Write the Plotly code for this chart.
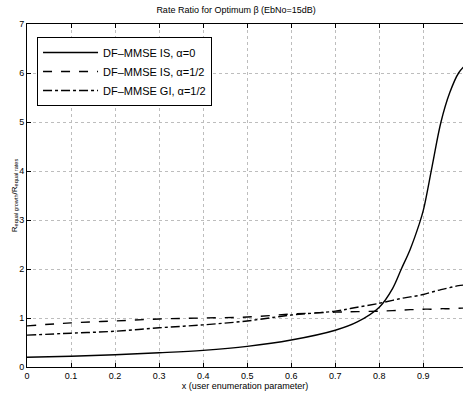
import plotly.graph_objects as go

x_vals = [0.0, 0.1, 0.2, 0.3, 0.4, 0.5, 0.6, 0.7, 0.75, 0.8, 0.83, 0.85, 0.87, 0.89, 0.9, 0.92, 0.94, 0.96, 0.98, 1.0]
is_alpha0 = [0.2, 0.22, 0.25, 0.29, 0.34, 0.42, 0.55, 0.75, 0.92, 1.22, 1.6, 2.0, 2.4, 2.9, 3.2, 4.1, 5.0, 5.6, 6.0, 6.2]
is_alpha_half = [0.84, 0.9, 0.94, 0.98, 1.0, 1.02, 1.08, 1.12, 1.13, 1.14, 1.15, 1.16, 1.17, 1.17, 1.18, 1.18, 1.19, 1.19, 1.2, 1.2]
gi_alpha_half = [0.65, 0.69, 0.73, 0.8, 0.86, 0.94, 1.06, 1.14, 1.22, 1.3, 1.36, 1.4, 1.43, 1.46, 1.48, 1.53, 1.58, 1.62, 1.66, 1.68]

names = ["DF\u2013MMSE IS, \u03b1=0", "DF\u2013MMSE IS, \u03b1=1/2", "DF\u2013MMSE GI, \u03b1=1/2"]
x_ticks = [0, 0.1, 0.2, 0.3, 0.4, 0.5, 0.6, 0.7, 0.8, 0.9]
y_ticks = [0, 1, 2, 3, 4, 5, 6, 7]

font = "Liberation Sans, Arial, sans-serif"

fig = go.Figure()
fig.add_trace(go.Scatter(x=x_vals, y=is_alpha0, mode="lines", name=names[0],
                         line=dict(color="black", width=1.4, shape="spline")))
fig.add_trace(go.Scatter(x=x_vals, y=is_alpha_half, mode="lines", name=names[1],
                         line=dict(color="black", width=1.4, dash="dash", shape="spline")))
fig.add_trace(go.Scatter(x=x_vals, y=gi_alpha_half, mode="lines", name=names[2],
                         line=dict(color="black", width=1.4, dash="dashdot", shape="spline")))

fig.update_layout(
    width=463, height=395,
    margin=dict(l=27, r=0, t=24, b=28),
    paper_bgcolor="white", plot_bgcolor="white",
    font=dict(family=font, size=9, color="black"),
    title=dict(text="Rate Ratio for Optimum \u03b2 (EbNo=15dB)", x=0.51, xanchor="center",
               y=0.975, yanchor="middle", font=dict(size=9)),
    legend=dict(x=0.023, y=0.962, xanchor="left", yanchor="top",
                bgcolor="white", bordercolor="black", borderwidth=1,
                font=dict(size=11), tracegroupgap=0, itemwidth=55,
                entrywidth=152),
    xaxis=dict(range=[0, 0.99], tickvals=x_ticks, ticktext=[str(t) for t in x_ticks],
               showline=True, linecolor="black", linewidth=1, mirror="ticks",
               ticks="inside", ticklen=4, tickcolor="black", automargin=False,
               showgrid=True, gridcolor="#bdbdbd", griddash="dot", gridwidth=1,
               zeroline=False,
               title=dict(text="x (user enumeration parameter)", standoff=0, font=dict(size=9))),
    yaxis=dict(range=[0, 7], tickvals=y_ticks, showline=True, linecolor="black", linewidth=1,
               ticks="inside", ticklen=4, tickcolor="black", automargin=False,
               showgrid=True, gridcolor="#bdbdbd", griddash="dot", gridwidth=1,
               zeroline=False,
               title=dict(text="R<sub>equal growth</sub>/R<sub>equal rates</sub>", standoff=0,
                          font=dict(size=8))),
)

fig.write_html("out.html", config={"displayModeBar": False},
               post_script="document.body.style.margin='0px';document.body.style.overflow='hidden';")
